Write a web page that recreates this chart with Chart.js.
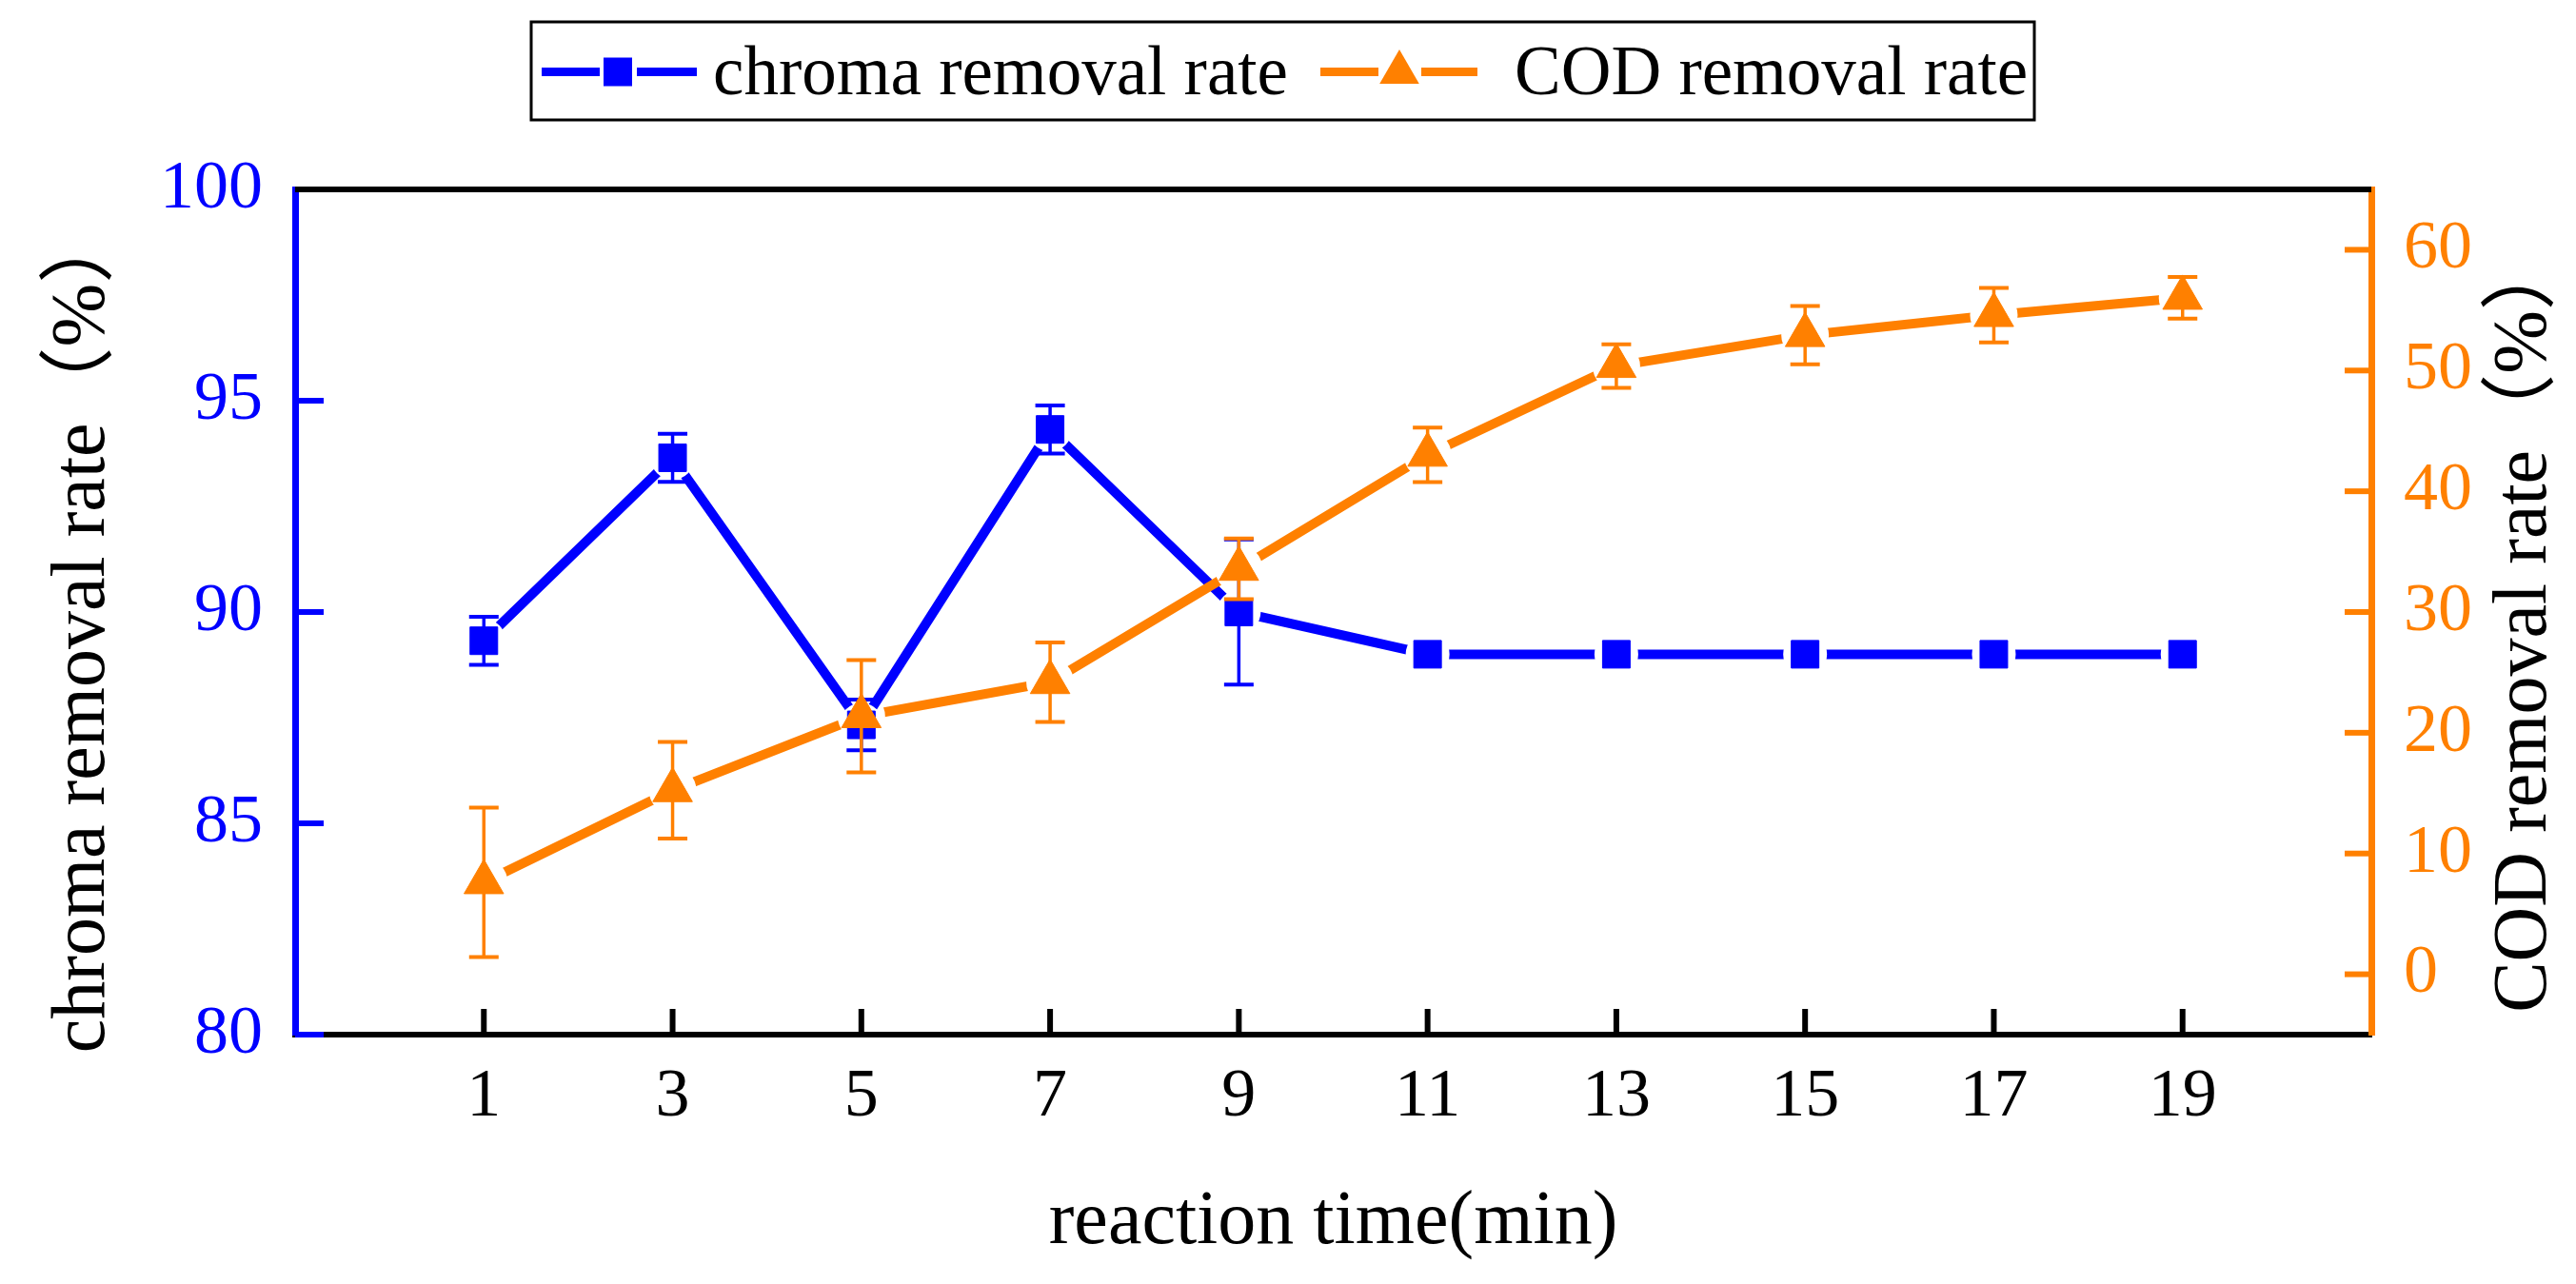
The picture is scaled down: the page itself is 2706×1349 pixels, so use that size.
<!DOCTYPE html>
<html>
<head>
<meta charset="utf-8">
<script src="https://cdn.jsdelivr.net/npm/chart.js@4.4.1/dist/chart.umd.min.js"></script>
<style>html,body{margin:0;padding:0;background:#fff;}canvas{display:block;}</style>
</head>
<body>
<canvas id="c" width="2706" height="1349"></canvas>
<script>
// ---- data ----
const times = [1, 3, 5, 7, 9, 11, 13, 15, 17, 19];
const chromaRate = [89.32, 93.65, 87.33, 94.32, 90.0, 89.0, 89.0, 89.0, 89.0, 89.0];
const chromaErr  = [0.57, 0.57, 0.6, 0.57, 1.72, 0, 0, 0, 0, 0];
const codRate = [7.62, 15.24, 21.37, 24.19, 33.57, 43.02, 50.37, 52.93, 54.59, 56.02];
const codErr  = [6.19, 4.0, 4.65, 3.29, 2.51, 2.26, 1.81, 2.41, 2.26, 1.73];
const xTicks = [1, 3, 5, 7, 9, 11, 13, 15, 17, 19];
const leftTicks = [80, 85, 90, 95, 100];
const rightTicks = [0, 10, 20, 30, 40, 50, 60];
const seriesNames = ['chroma removal rate', 'COD removal rate'];
const xTitle = 'reaction time(min)';
const leftTitle = 'chroma removal rate（%）';
const rightTitle = 'COD removal rate（%）';

const BLUE = '#0000FF';
const ORANGE = '#FF8000';
const SERIF = '"Liberation Serif", "Times New Roman", "Noto Sans CJK SC", serif';

// line gaps around own markers + error bars, drawn per dataset
const gapPlugin = {
  id: 'gapAndErrors',
  beforeDatasetDraw(chart, args) {
    const ctx = chart.ctx;
    const ds = chart.data.datasets[args.index];
    const g = ds.gapRadius || 0;
    ctx.save();
    ctx.beginPath();
    ctx.rect(0, 0, chart.width, chart.height);
    args.meta.data.forEach(p => {
      ctx.moveTo(p.x + g, p.y);
      ctx.arc(p.x, p.y, g, 0, Math.PI * 2, true);
    });
    ctx.clip('evenodd');
  },
  afterDatasetDraw(chart, args) {
    const ctx = chart.ctx;
    ctx.restore();
    const ds = chart.data.datasets[args.index];
    const yScale = chart.scales[ds.yAxisID];
    const xScale = chart.scales.x;
    ctx.save();
    ctx.strokeStyle = ds.borderColor;
    ds.data.forEach((pt, i) => {
      const e = ds.errors[i];
      if (!e) return;
      const x = xScale.getPixelForValue(pt.x);
      const yt = yScale.getPixelForValue(pt.y + e);
      const yb = yScale.getPixelForValue(pt.y - e);
      ctx.lineWidth = 3.5;
      ctx.beginPath(); ctx.moveTo(x, yt); ctx.lineTo(x, yb); ctx.stroke();
      ctx.lineWidth = 4;
      ctx.beginPath();
      ctx.moveTo(x - 15.5, yt); ctx.lineTo(x + 15.5, yt);
      ctx.moveTo(x - 15.5, yb); ctx.lineTo(x + 15.5, yb);
      ctx.stroke();
    });
    ctx.restore();
    args.meta.data.forEach(p => p.draw(ctx, chart.chartArea));
  }
};

// inward ticks, top frame, y titles, legend
const framePlugin = {
  id: 'frame',
  afterDraw(chart) {
    const ctx = chart.ctx;
    const a = chart.chartArea;
    const {x, y, y2} = chart.scales;
    ctx.save();
    ctx.lineCap = 'butt';
    ctx.lineWidth = 6;
    // x ticks
    ctx.strokeStyle = '#000';
    x.ticks.forEach(t => {
      const px = x.getPixelForValue(t.value);
      ctx.beginPath(); ctx.moveTo(px, a.bottom); ctx.lineTo(px, a.bottom - 27); ctx.stroke();
    });
    // left ticks
    ctx.strokeStyle = BLUE;
    y.ticks.forEach(t => {
      const py = y.getPixelForValue(t.value);
      ctx.beginPath(); ctx.moveTo(a.left, py); ctx.lineTo(a.left + 30, py); ctx.stroke();
    });
    // right ticks
    ctx.strokeStyle = ORANGE;
    y2.ticks.forEach(t => {
      const py = y2.getPixelForValue(t.value);
      ctx.beginPath(); ctx.moveTo(a.right, py); ctx.lineTo(a.right - 28, py); ctx.stroke();
    });
    // top frame line
    ctx.strokeStyle = '#000';
    ctx.beginPath(); ctx.moveTo(a.left, a.top); ctx.lineTo(a.right, a.top); ctx.stroke();

    // y axis titles (both read bottom-to-top)
    ctx.fillStyle = '#000';
    ctx.font = '80px ' + SERIF;
    ctx.textAlign = 'center';
    ctx.textBaseline = 'middle';
    ctx.save(); ctx.translate(88, 662); ctx.rotate(-Math.PI / 2); ctx.fillText(leftTitle, 0, 0); ctx.restore();
    ctx.save(); ctx.translate(2653, 655); ctx.rotate(-Math.PI / 2); ctx.fillText(rightTitle, 0, 0); ctx.restore();

    // legend
    ctx.lineWidth = 3;
    ctx.strokeStyle = '#000';
    ctx.strokeRect(558, 23, 1579, 103);
    const ly = 75.5;
    // item 1
    ctx.lineWidth = 9;
    ctx.strokeStyle = BLUE;
    ctx.beginPath(); ctx.moveTo(569, ly); ctx.lineTo(630, ly); ctx.moveTo(669, ly); ctx.lineTo(732, ly); ctx.stroke();
    ctx.fillStyle = BLUE;
    ctx.fillRect(649 - 15, ly - 15, 30, 30);
    // item 2
    ctx.strokeStyle = ORANGE;
    ctx.beginPath(); ctx.moveTo(1387, ly); ctx.lineTo(1448, ly); ctx.moveTo(1493, ly); ctx.lineTo(1552, ly); ctx.stroke();
    ctx.fillStyle = ORANGE;
    const cx = 1470, cy = 76, r = 24;
    ctx.beginPath();
    ctx.moveTo(cx, cy - r);
    ctx.lineTo(cx + r * Math.sin(2 * Math.PI / 3), cy - r * Math.cos(2 * Math.PI / 3));
    ctx.lineTo(cx + r * Math.sin(4 * Math.PI / 3), cy - r * Math.cos(4 * Math.PI / 3));
    ctx.closePath(); ctx.fill();
    // texts
    ctx.fillStyle = '#000';
    ctx.font = '73px ' + SERIF;
    ctx.textAlign = 'left';
    ctx.textBaseline = 'alphabetic';
    ctx.fillText(chart.data.datasets[0].label, 749, 99);
    ctx.fillText(chart.data.datasets[1].label, 1591, 99);
    ctx.restore();
  }
};

const chart = new Chart(document.getElementById('c'), {
  type: 'line',
  data: {
    datasets: [
      {
        label: seriesNames[0],
        data: times.map((t, i) => ({x: t, y: chromaRate[i]})),
        errors: chromaErr,
        gapRadius: 23,
        yAxisID: 'y',
        order: 1,
        borderColor: BLUE,
        backgroundColor: BLUE,
        borderWidth: 10,
        pointStyle: 'rect',
        pointRadius: 20.5,
        pointBorderWidth: 1,
        pointBackgroundColor: BLUE,
        pointBorderColor: BLUE,
        tension: 0,
        fill: false
      },
      {
        label: seriesNames[1],
        data: times.map((t, i) => ({x: t, y: codRate[i]})),
        errors: codErr,
        gapRadius: 25,
        yAxisID: 'y2',
        order: 0,
        borderColor: ORANGE,
        backgroundColor: ORANGE,
        borderWidth: 10,
        pointStyle: 'triangle',
        pointRadius: 24,
        pointBorderWidth: 1,
        pointBackgroundColor: ORANGE,
        pointBorderColor: ORANGE,
        tension: 0,
        fill: false
      }
    ]
  },
  options: {
    responsive: false,
    animation: false,
    devicePixelRatio: 1,
    events: [],
    layout: {padding: {top: 199, left: 0, right: 0, bottom: 0}},
    plugins: {legend: {display: false}, tooltip: {enabled: false}},
    scales: {
      x: {
        type: 'linear',
        min: -1, max: 21,
        afterBuildTicks: s => { s.ticks = xTicks.map(v => ({value: v})); },
        afterFit: s => { s.height = 262; },
        grid: {display: false, drawTicks: false},
        border: {display: true, color: '#000', width: 6},
        ticks: {color: '#000', padding: 23, font: {family: SERIF, size: 72}, maxRotation: 0, autoSkip: false},
        title: {display: true, text: xTitle, color: '#000', font: {family: SERIF, size: 80}, padding: {top: 0, bottom: 16}}
      },
      y: {
        type: 'linear',
        position: 'left',
        min: 80, max: 100,
        afterBuildTicks: s => { s.ticks = leftTicks.map(v => ({value: v})); },
        afterFit: s => { s.width = 310; },
        grid: {display: false, drawTicks: false},
        border: {display: true, color: BLUE, width: 7},
        ticks: {color: BLUE, padding: 34, font: {family: SERIF, size: 72}}
      },
      y2: {
        type: 'linear',
        position: 'right',
        min: -5, max: 65,
        afterBuildTicks: s => { s.ticks = rightTicks.map(v => ({value: v})); },
        afterFit: s => { s.width = 215; },
        grid: {display: false, drawTicks: false},
        border: {display: true, color: ORANGE, width: 7},
        ticks: {color: ORANGE, padding: 34, font: {family: SERIF, size: 72}}
      }
    }
  },
  plugins: [gapPlugin, framePlugin]
});
</script>
</body>
</html>
